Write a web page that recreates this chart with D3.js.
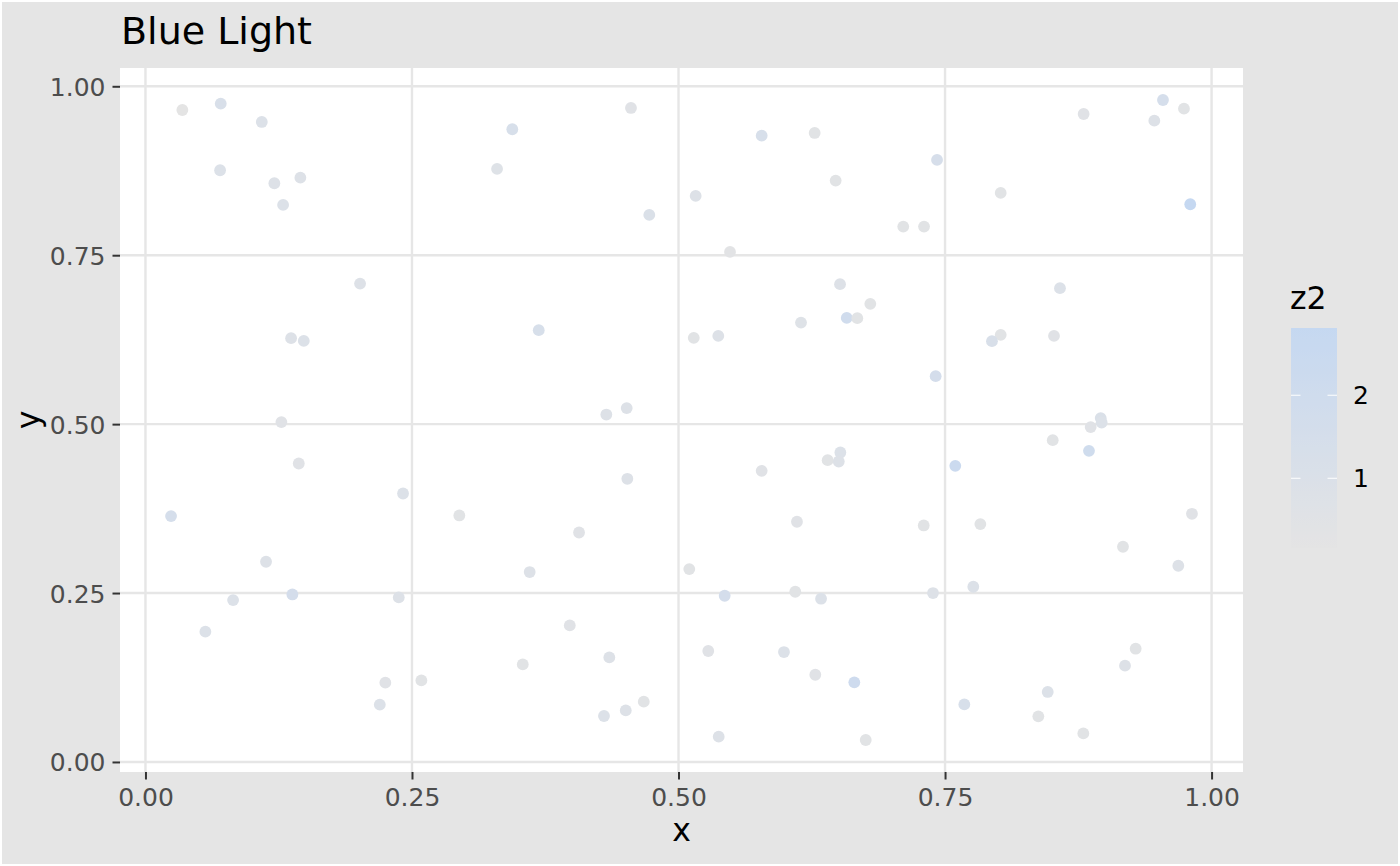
<!DOCTYPE html>
<html lang="en">

<head>
    <meta charset="UTF-8">
    <title>Blue Light</title>
    <style>
        body {
            margin: 0;
            padding: 0;
            background: #fff;
            font-family: "DejaVu Sans", sans-serif;
        }

        .grid line {
            stroke: #e6e6e6;
            stroke-width: 2.4px;
        }

        .axis text {
            fill: #4d4d4d;
            font-size: 25px;
        }

        .axis line {
            stroke: #333;
            stroke-width: 2px;
        }
    </style>
</head>

<body>
    <div id="chart"></div>
    <script src="https://d3js.org/d3.v7.min.js"></script>
    <script>
        // point data
        const xVals = [
            0.0346, 0.0706, 0.1091, 0.0700, 0.1209, 0.1453, 0.1291, 0.2013, 0.1366, 0.1485,
            0.3298, 0.4554, 0.3441, 0.5780, 0.6277, 0.6474, 0.5161, 0.4726, 0.5483, 0.6515,
            0.6799, 0.6578, 0.6677, 0.6149, 0.3689, 0.5143, 0.5373, 0.4323, 0.4514, 0.9544,
            0.9741, 0.8800, 0.9463, 0.7425, 0.8022, 0.9800, 0.7108, 0.7303, 0.8578, 0.8022,
            0.7940, 0.8522, 0.7412, 0.1275, 0.1438, 0.2416, 0.0240, 0.2944, 0.1131, 0.0822,
            0.1378, 0.2376, 0.0562, 0.2250, 0.2588, 0.2198, 0.4520, 0.4067, 0.3604, 0.5101,
            0.5780, 0.6399, 0.6518, 0.6503, 0.6111, 0.5433, 0.6095, 0.6337, 0.3980, 0.3539,
            0.4351, 0.5279, 0.5989, 0.6283, 0.6649, 0.4301, 0.4505, 0.4674, 0.5377, 0.6756,
            0.8960, 0.8969, 0.8866, 0.8510, 0.8850, 0.7596, 0.7300, 0.7831, 0.9816, 0.9169,
            0.9688, 0.7387, 0.7765, 0.9288, 0.9188, 0.8463, 0.7681, 0.8375, 0.8797
        ];
        const yVals = [
            0.9649, 0.9743, 0.9472, 0.8757, 0.8565, 0.8648, 0.8244, 0.7080, 0.6272, 0.6232,
            0.8777, 0.9679, 0.9364, 0.9269, 0.9309, 0.8604, 0.8377, 0.8096, 0.7549, 0.7071,
            0.6780, 0.6572, 0.6568, 0.6503, 0.6391, 0.6277, 0.6306, 0.5142, 0.5237, 0.9797,
            0.9669, 0.9590, 0.9491, 0.8910, 0.8422, 0.8254, 0.7923, 0.7923, 0.7012, 0.6321,
            0.6228, 0.6306, 0.5710, 0.5030, 0.4417, 0.3973, 0.3639, 0.3648, 0.2963, 0.2396,
            0.2479, 0.2435, 0.1928, 0.1173, 0.1207, 0.0848, 0.4191, 0.3396, 0.2811, 0.2855,
            0.4309, 0.4467, 0.4580, 0.4447, 0.3555, 0.2460, 0.2519, 0.2416, 0.2021, 0.1444,
            0.1547, 0.1642, 0.1627, 0.1291, 0.1178, 0.0680, 0.0763, 0.0892, 0.0374, 0.0325,
            0.5089, 0.5024, 0.4956, 0.4763, 0.4605, 0.4383, 0.3500, 0.3521, 0.3673, 0.3185,
            0.2904, 0.2500, 0.2593, 0.1676, 0.1425, 0.1036, 0.0852, 0.0675, 0.0423
        ];
        const z2Vals = [
            0.16, 1.2, 0.9, 0.9, 0.8, 0.8, 0.9, 0.8, 0.8, 0.9,
            0.7, 0.5, 1.3, 1.3, 0.4, 0.4, 0.8, 1.0, 0.3, 0.8,
            0.4, 1.9, 0.4, 0.7, 1.3, 0.4, 0.8, 0.8, 0.8, 1.5,
            0.4, 0.5, 0.8, 1.4, 0.4, 2.81, 0.4, 0.4, 0.9, 0.4,
            1.2, 0.5, 1.6, 0.5, 0.5, 0.9, 1.5, 0.4, 0.8, 0.9,
            1.6, 0.8, 0.9, 0.5, 0.4, 0.9, 0.8, 0.5, 0.8, 0.4,
            0.5, 0.4, 0.9, 0.8, 0.5, 1.6, 0.4, 0.9, 0.5, 0.4,
            0.8, 0.5, 0.9, 0.5, 2.1, 0.9, 0.8, 0.4, 0.8, 0.4,
            1.0, 0.9, 0.5, 0.4, 2.0, 2.3, 0.4, 0.4, 0.5, 0.4,
            0.8, 0.8, 0.9, 0.4, 0.8, 0.9, 1.3, 0.4, 0.4
        ];
        const xTicks = [0, 0.25, 0.5, 0.75, 1];
        const yTicks = [0, 0.25, 0.5, 0.75, 1];
        const zTicks = [1, 2];

        const width = 1400;
        const height = 866;
        const panel = { left: 120, right: 1243, top: 68, bottom: 772 };

        const points = xVals.map((x, i) => ({ x: x, y: yVals[i], z: z2Vals[i] }));

        // ggplot style 5% expansion
        function expand(ext) {
            const pad = (ext[1] - ext[0]) * 0.05;
            return [ext[0] - pad, ext[1] + pad];
        }

        const xScale = d3.scaleLinear()
            .domain(expand(d3.extent(xVals)))
            .range([panel.left, panel.right]);

        const yScale = d3.scaleLinear()
            .domain(expand(d3.extent(yVals)))
            .range([panel.bottom, panel.top]);

        const zExtent = d3.extent(z2Vals);
        const colorScale = d3.scaleLinear()
            .domain(zExtent)
            .range(["#e4e4e4", "#c5d8f1"])
            .interpolate(d3.interpolateLab);

        const svg = d3.select("#chart").append("svg")
            .attr("width", width)
            .attr("height", height);

        // background
        svg.append("rect")
            .attr("x", 1)
            .attr("y", 1)
            .attr("width", width - 2)
            .attr("height", height - 2)
            .attr("fill", "#e5e5e5")
            .attr("stroke", "#fff")
            .attr("stroke-width", 2);

        svg.append("rect")
            .attr("x", panel.left)
            .attr("y", panel.top)
            .attr("width", panel.right - panel.left)
            .attr("height", panel.bottom - panel.top)
            .attr("fill", "#fff");

        // grid
        const grid = svg.append("g").attr("class", "grid");
        grid.selectAll(".gx")
            .data(xTicks)
            .enter().append("line")
            .attr("x1", d => xScale(d))
            .attr("x2", d => xScale(d))
            .attr("y1", panel.top)
            .attr("y2", panel.bottom);
        grid.selectAll(".gy")
            .data(yTicks)
            .enter().append("line")
            .attr("y1", d => yScale(d))
            .attr("y2", d => yScale(d))
            .attr("x1", panel.left)
            .attr("x2", panel.right);

        // points
        svg.append("g")
            .selectAll("circle")
            .data(points)
            .enter().append("circle")
            .attr("cx", d => xScale(d.x))
            .attr("cy", d => yScale(d.y))
            .attr("r", 5.9)
            .attr("fill", d => colorScale(d.z));

        // axes
        const xAxis = d3.axisBottom(xScale)
            .tickValues(xTicks)
            .tickFormat(d3.format(".2f"))
            .tickSize(7.5)
            .tickPadding(6);
        const yAxis = d3.axisLeft(yScale)
            .tickValues(yTicks)
            .tickFormat(d3.format(".2f"))
            .tickSize(7.5)
            .tickPadding(7);

        const gx = svg.append("g")
            .attr("class", "axis")
            .attr("transform", "translate(0," + panel.bottom + ")")
            .call(xAxis);
        gx.select(".domain").remove();
        gx.selectAll("text").attr("dy", "0.82em").style("font-family", "DejaVu Sans");

        const gy = svg.append("g")
            .attr("class", "axis")
            .attr("transform", "translate(" + panel.left + ",0)")
            .call(yAxis);
        gy.select(".domain").remove();
        gy.selectAll("text").attr("dy", "0.36em").style("font-family", "DejaVu Sans");

        // titles
        svg.append("text")
            .attr("x", 121)
            .attr("y", 44)
            .style("font-size", "38px")
            .style("fill", "#000")
            .text("Blue Light");

        svg.append("text")
            .attr("x", (panel.left + panel.right) / 2)
            .attr("y", 841)
            .style("text-anchor", "middle")
            .style("font-size", "31.5px")
            .text("x");

        svg.append("text")
            .attr("transform", "translate(39," + ((panel.top + panel.bottom) / 2) + ") rotate(-90)")
            .style("text-anchor", "middle")
            .style("font-size", "31.5px")
            .text("y");

        // colour bar legend
        const bar = { x: 1291, w: 46, top: 328, bottom: 548 };
        const barScale = d3.scaleLinear()
            .domain(zExtent)
            .range([bar.bottom, bar.top]);

        const grad = svg.append("defs").append("linearGradient")
            .attr("id", "zgrad")
            .attr("x1", 0).attr("y1", 1)
            .attr("x2", 0).attr("y2", 0);
        d3.range(0, 1.0001, 0.05).forEach(t => {
            grad.append("stop")
                .attr("offset", t)
                .attr("stop-color", colorScale(zExtent[0] + t * (zExtent[1] - zExtent[0])));
        });

        svg.append("rect")
            .attr("x", bar.x)
            .attr("y", bar.top)
            .attr("width", bar.w)
            .attr("height", bar.bottom - bar.top)
            .attr("fill", "url(#zgrad)");

        const legTicks = svg.append("g");
        zTicks.forEach(t => {
            const ty = barScale(t);
            legTicks.append("line")
                .attr("x1", bar.x).attr("x2", bar.x + 9.5)
                .attr("y1", ty).attr("y2", ty)
                .attr("stroke", "#fff").attr("stroke-width", 1);
            legTicks.append("line")
                .attr("x1", bar.x + bar.w - 9.5).attr("x2", bar.x + bar.w)
                .attr("y1", ty).attr("y2", ty)
                .attr("stroke", "#fff").attr("stroke-width", 1);
            legTicks.append("text")
                .attr("x", 1353)
                .attr("y", ty)
                .attr("dy", "0.36em")
                .style("font-size", "25px")
                .text(t);
        });

        svg.append("text")
            .attr("x", 1290)
            .attr("y", 309)
            .style("font-size", "31.5px")
            .text("z2");
    </script>
</body>

</html>
